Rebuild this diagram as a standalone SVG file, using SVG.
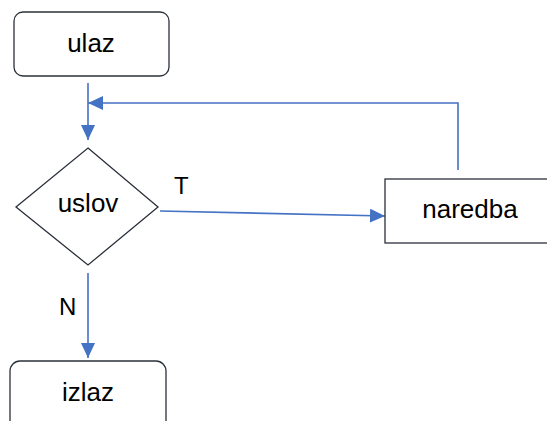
<svg xmlns="http://www.w3.org/2000/svg" width="547" height="421" viewBox="0 0 547 421">
<style>
.box{fill:#fff;stroke:#2b313a;stroke-width:1.3}
.lbl{font-family:"Liberation Sans",Arial,sans-serif;font-size:26px;fill:#000;text-anchor:middle}
.edge{fill:none;stroke:#4472c4;stroke-width:1.6}
.el{font-family:"Liberation Sans",Arial,sans-serif;font-size:24px;fill:#000}
</style>
<defs>
<marker id="ah" markerUnits="userSpaceOnUse" markerWidth="16" markerHeight="14" refX="15" refY="7" orient="auto">
<path d="M0,0 L15,7 L0,14 Z" fill="#4472c4"/>
</marker>
</defs>
<rect width="547" height="421" fill="#fff"/>
<g id="connectors">
<path class="edge" d="M88,83 V140" marker-end="url(#ah)"/>
<path class="edge" d="M458,170 V103 H88" marker-end="url(#ah)"/>
<path class="edge" d="M160,211 L385,216" marker-end="url(#ah)"/>
<path class="edge" d="M88,273 V358" marker-end="url(#ah)"/>
<text class="el" x="174" y="194">T</text>
<text class="el" x="59" y="315">N</text>
</g>
<g id="ulaz">
<rect class="box" x="14" y="12" width="155" height="64" rx="9"/>
<text class="lbl" x="91" y="52">ulaz</text>
</g>
<g id="uslov">
<polygon class="box" points="88,148 158,207 88,265 16,207"/>
<text class="lbl" x="88" y="212">uslov</text>
</g>
<g id="naredba">
<rect class="box" x="385" y="179" width="170" height="64"/>
<text class="lbl" x="470" y="218">naredba</text>
</g>
<g id="izlaz">
<rect class="box" x="10" y="361" width="156" height="80" rx="10"/>
<text class="lbl" x="88" y="401">izlaz</text>
</g>
</svg>
